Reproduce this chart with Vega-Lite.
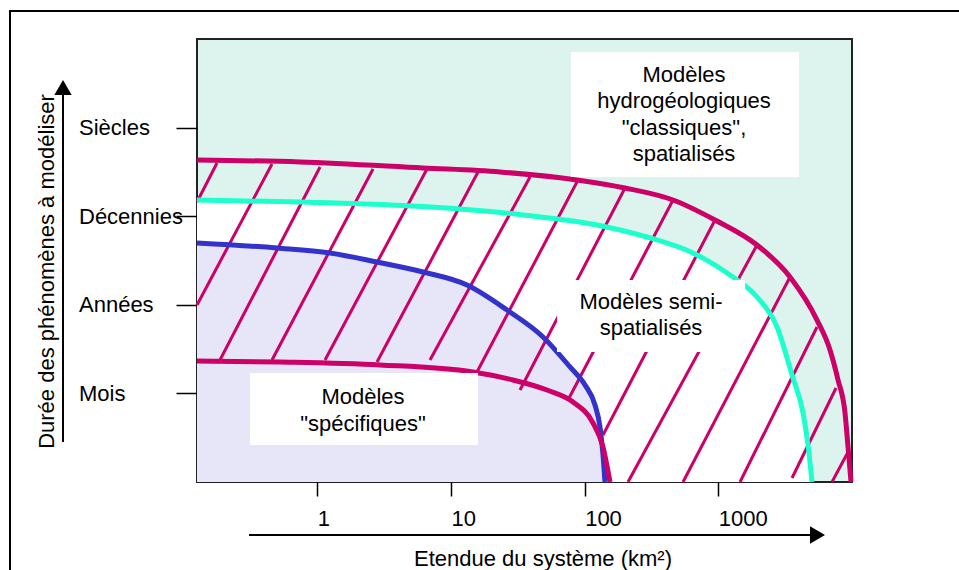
{
  "$schema": "https://vega.github.io/schema/vega-lite/v6.json",
  "width": 655,
  "height": 443,
  "autosize": "none",
  "padding": {"left": 197, "top": 39, "right": 107, "bottom": 88},
  "background": "white",
  "config": {
    "font": "Liberation Sans",
    "view": {"stroke": "#222", "strokeWidth": 2, "fill": "#ddf4ee"},
    "axis": {"domain": false, "grid": false, "labelColor": "#000", "tickColor": "#000", "titleColor": "#000", "titleFontWeight": "normal", "labelFont": "Liberation Sans", "titleFont": "Liberation Sans"}
  },
  "datasets": {
    "curves": [
      {"c": "outer", "x": 0.1259, "y": 3.634}, {"c": "outer", "x": 0.743, "y": 3.612}, {"c": "outer", "x": 6.18, "y": 3.544}, {"c": "outer", "x": 23.27, "y": 3.499}, {"c": "outer", "x": 87.67, "y": 3.409}, {"c": "outer", "x": 200.4, "y": 3.318}, {"c": "outer", "x": 458.1, "y": 3.183}, {"c": "outer", "x": 944.5, "y": 2.957}, {"c": "outer", "x": 1947, "y": 2.675}, {"c": "outer", "x": 3438, "y": 2.314}, {"c": "outer", "x": 5474, "y": 1.828}, {"c": "outer", "x": 6848, "y": 1.49}, {"c": "outer", "x": 7863, "y": 1.151}, {"c": "outer", "x": 8867, "y": 0.779}, {"c": "outer", "x": 9338, "y": 0.395}, {"c": "outer", "x": 9833, "y": 0},
      {"c": "cyan", "x": 0.1259, "y": 3.183}, {"c": "cyan", "x": 0.743, "y": 3.16}, {"c": "cyan", "x": 3.499, "y": 3.126}, {"c": "cyan", "x": 11.68, "y": 3.081}, {"c": "cyan", "x": 34.57, "y": 3.014}, {"c": "cyan", "x": 123.7, "y": 2.901}, {"c": "cyan", "x": 292.8, "y": 2.765}, {"c": "cyan", "x": 646.6, "y": 2.585}, {"c": "cyan", "x": 1223, "y": 2.336}, {"c": "cyan", "x": 1947, "y": 2.088}, {"c": "cyan", "x": 2749, "y": 1.749}, {"c": "cyan", "x": 3559, "y": 1.208}, {"c": "cyan", "x": 4301, "y": 0.779}, {"c": "cyan", "x": 4688, "y": 0.418}, {"c": "cyan", "x": 5022, "y": 0},
      {"c": "blue", "x": 0.1259, "y": 2.698}, {"c": "blue", "x": 0.4995, "y": 2.641}, {"c": "blue", "x": 1.245, "y": 2.585}, {"c": "blue", "x": 2.797, "y": 2.483}, {"c": "blue", "x": 6.18, "y": 2.37}, {"c": "blue", "x": 13.18, "y": 2.223}, {"c": "blue", "x": 26.25, "y": 1.941}, {"c": "blue", "x": 48.81, "y": 1.637}, {"c": "blue", "x": 77.72, "y": 1.298}, {"c": "blue", "x": 100.6, "y": 1.095}, {"c": "blue", "x": 119.5, "y": 0.869}, {"c": "blue", "x": 130.3, "y": 0.621}, {"c": "blue", "x": 137.2, "y": 0.305}, {"c": "blue", "x": 142.0, "y": 0},
      {"c": "inner", "x": 0.1259, "y": 1.366}, {"c": "inner", "x": 0.5259, "y": 1.354}, {"c": "inner", "x": 2.945, "y": 1.321}, {"c": "inner", "x": 14.62, "y": 1.242}, {"c": "inner", "x": 29.11, "y": 1.151}, {"c": "inner", "x": 52.29, "y": 1.038}, {"c": "inner", "x": 81.83, "y": 0.903}, {"c": "inner", "x": 115.5, "y": 0.666}, {"c": "inner", "x": 137.2, "y": 0.395}, {"c": "inner", "x": 154.8, "y": 0}
    ],
    "hatch": [
      {"x": 0.1777, "y": 3.6, "x2": 0.1259, "y2": 3.16},
      {"x": 0.4583, "y": 3.589, "x2": 0.1259, "y2": 1.998},
      {"x": 1.048, "y": 3.555, "x2": 0.1871, "y2": 1.377},
      {"x": 2.611, "y": 3.533, "x2": 0.4583, "y2": 1.377},
      {"x": 6.617, "y": 3.533, "x2": 1.142, "y2": 1.377},
      {"x": 15.93, "y": 3.499, "x2": 2.797, "y2": 1.354},
      {"x": 39.01, "y": 3.442, "x2": 6.967, "y2": 1.377},
      {"x": 89.19, "y": 3.409, "x2": 15.65, "y2": 1.242},
      {"x": 200.4, "y": 3.318, "x2": 32.84, "y2": 1.038},
      {"x": 458.1, "y": 3.183, "x2": 75.08, "y2": 0.926},
      {"x": 944.5, "y": 2.957, "x2": 137.2, "y2": 0.53},
      {"x": 1947, "y": 2.675, "x2": 211.0, "y2": 0},
      {"x": 3438, "y": 2.314, "x2": 544.2, "y2": 0},
      {"x": 5474, "y": 1.749, "x2": 1453, "y2": 0},
      {"x": 7596, "y": 1.061, "x2": 3559, "y2": 0.045},
      {"x": 9338, "y": 0.339, "x2": 7087, "y2": 0}
    ],
    "boxes": [
      {"x": 79.07, "x2": 4016, "y": 4.853, "y2": 3.442},
      {"x": 62.13, "x2": 1584, "y": 2.28, "y2": 1.467},
      {"x": 0.3136, "x2": 15.93, "y": 1.23, "y2": 0.418}
    ],
    "labels": [
      {"x": 553.7, "y": 4.594, "text": "Modèles\nhydrogéologiques\n\"classiques\",\nspatialisés"},
      {"x": 313.6, "y": 2.032, "text": "Modèles semi-\nspatialisés"},
      {"x": 2.197, "y": 0.959, "text": "Modèles\n\"spécifiques\""}
    ],
    "axisArrows": [
      {"x": 0.01252, "y": 0.451, "x2": 0.01252, "y2": 4.43, "head": "triangle-up", "hx": 0.01252, "hy": 4.452},
      {"x": 0.3083, "y": -0.598, "x2": 5289, "y2": -0.598, "head": "triangle-right", "hx": 5521, "hy": -0.598}
    ],
    "frame": [
      {"x": 0.005024, "x2": 79433, "y": 5.316, "y2": -1.3}
    ]
  },
  "layer": [
    {
      "data": {"name": "curves"},
      "transform": [{"filter": "datum.c == 'cyan'"}],
      "mark": {"type": "area", "color": "white", "interpolate": "monotone"},
      "encoding": {
        "x": {"field": "x", "type": "quantitative", "scale": {"type": "log", "domain": [0.12589, 10000], "nice": false},
          "axis": {"values": [1, 10, 100, 1000], "format": "d", "tickSize": 14, "tickWidth": 1.5, "labelAlign": "left", "labelDx": -11, "labelBaseline": "top", "labelPadding": 12.4, "labelFontSize": 22, "labelOverlap": false, "labelFlush": false, "labelBound": false,
            "title": "Etendue du système (km²)", "titleFontSize": 22, "titleX": 345.5, "titleY": 83, "titleBaseline": "alphabetic", "titleAlign": "center"}},
        "y": {"field": "y", "type": "quantitative", "scale": {"domain": [0, 5], "nice": false, "zero": false},
          "axis": {"values": [1, 2, 3, 4], "labelExpr": "datum.value == 1 ? 'Mois' : datum.value == 2 ? 'Années' : datum.value == 3 ? 'Décennies' : 'Siècles'", "tickSize": 21, "tickWidth": 1.5, "labelAlign": "left", "labelBaseline": "middle", "labelPadding": 97.5, "labelFontSize": 22, "labelOverlap": false, "labelFlush": false, "labelBound": false,
            "title": "Durée des phénomènes à modéliser", "titleFontSize": 22, "titleAngle": 270, "titleX": -150.6, "titleY": 232, "titleBaseline": "middle", "titleAlign": "center"}}
      }
    },
    {
      "data": {"name": "curves"},
      "transform": [{"filter": "datum.c == 'blue'"}],
      "mark": {"type": "area", "color": "#e6e6f8", "interpolate": "monotone"},
      "encoding": {
        "x": {"field": "x", "type": "quantitative", "scale": {"type": "log", "domain": [0.12589, 10000], "nice": false}},
        "y": {"field": "y", "type": "quantitative", "scale": {"domain": [0, 5], "nice": false, "zero": false}}
      }
    },
    {
      "data": {"name": "hatch"},
      "mark": {"type": "rule", "color": "#cc0066", "strokeWidth": 3},
      "encoding": {
        "x": {"field": "x", "type": "quantitative", "scale": {"type": "log", "domain": [0.12589, 10000], "nice": false}},
        "y": {"field": "y", "type": "quantitative", "scale": {"domain": [0, 5], "nice": false, "zero": false}},
        "x2": {"field": "x2"},
        "y2": {"field": "y2"}
      }
    },
    {
      "data": {"name": "curves"},
      "mark": {"type": "line", "strokeWidth": 5, "interpolate": "monotone"},
      "encoding": {
        "x": {"field": "x", "type": "quantitative", "scale": {"type": "log", "domain": [0.12589, 10000], "nice": false}},
        "y": {"field": "y", "type": "quantitative", "scale": {"domain": [0, 5], "nice": false, "zero": false}},
        "color": {"field": "c", "type": "nominal", "scale": {"domain": ["outer", "cyan", "blue", "inner"], "range": ["#cc0066", "#1dffcc", "#3333cc", "#cc0066"]}, "legend": null}
      }
    },
    {
      "data": {"name": "boxes"},
      "mark": {"type": "rect", "color": "white"},
      "encoding": {
        "x": {"field": "x", "type": "quantitative", "scale": {"type": "log", "domain": [0.12589, 10000], "nice": false}},
        "x2": {"field": "x2"},
        "y": {"field": "y", "type": "quantitative", "scale": {"domain": [0, 5], "nice": false, "zero": false}},
        "y2": {"field": "y2"}
      }
    },
    {
      "data": {"name": "labels"},
      "mark": {"type": "text", "fontSize": 22, "lineHeight": 26.5, "lineBreak": "\n", "align": "center", "baseline": "middle", "color": "#000"},
      "encoding": {
        "x": {"field": "x", "type": "quantitative", "scale": {"type": "log", "domain": [0.12589, 10000], "nice": false}},
        "y": {"field": "y", "type": "quantitative", "scale": {"domain": [0, 5], "nice": false, "zero": false}},
        "text": {"field": "text"}
      }
    },
    {
      "data": {"name": "axisArrows"},
      "mark": {"type": "rule", "color": "#000", "strokeWidth": 2, "clip": false},
      "encoding": {
        "x": {"field": "x", "type": "quantitative", "scale": {"type": "log", "domain": [0.12589, 10000], "nice": false}},
        "x2": {"field": "x2"},
        "y": {"field": "y", "type": "quantitative", "scale": {"domain": [0, 5], "nice": false, "zero": false}},
        "y2": {"field": "y2"}
      }
    },
    {
      "data": {"name": "axisArrows"},
      "mark": {"type": "point", "filled": true, "color": "#000", "size": 300, "opacity": 1, "clip": false},
      "encoding": {
        "x": {"field": "hx", "type": "quantitative", "scale": {"type": "log", "domain": [0.12589, 10000], "nice": false}},
        "y": {"field": "hy", "type": "quantitative", "scale": {"domain": [0, 5], "nice": false, "zero": false}},
        "shape": {"field": "head", "type": "nominal", "scale": null}
      }
    },
    {
      "data": {"name": "frame"},
      "mark": {"type": "rect", "filled": false, "stroke": "#000", "strokeWidth": 2, "clip": false},
      "encoding": {
        "x": {"field": "x", "type": "quantitative", "scale": {"type": "log", "domain": [0.12589, 10000], "nice": false}},
        "x2": {"field": "x2"},
        "y": {"field": "y", "type": "quantitative", "scale": {"domain": [0, 5], "nice": false, "zero": false}},
        "y2": {"field": "y2"}
      }
    }
  ]
}
